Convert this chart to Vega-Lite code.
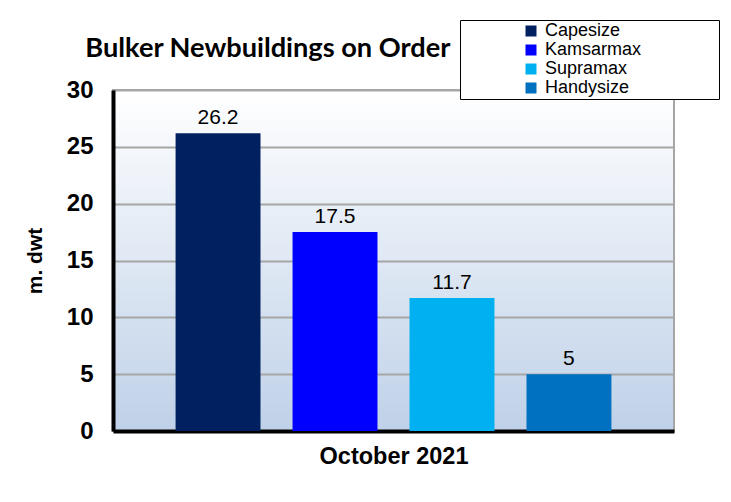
{
  "$schema": "https://vega.github.io/schema/vega-lite/v6.json",
  "autosize": {"type": "none"},
  "width": 561,
  "height": 341,
  "padding": {"left": 113, "top": 90, "right": 57, "bottom": 71},
  "background": "white",
  "title": {
    "text": "Bulker Newbuildings on Order",
    "anchor": "start",
    "dx": 61,
    "offset": 0,
    "dy": 44,
    "font": "Lato",
    "fontSize": 27.2,
    "fontWeight": "bold",
    "color": "black"
  },
  "data": {
    "values": [
      {"type": "Capesize", "dwt": 26.2, "label": "26.2"},
      {"type": "Kamsarmax", "dwt": 17.5, "label": "17.5"},
      {"type": "Supramax", "dwt": 11.7, "label": "11.7"},
      {"type": "Handysize", "dwt": 5, "label": "5"}
    ]
  },
  "encoding": {
    "x": {
      "field": "type",
      "type": "nominal",
      "sort": null,
      "scale": {"paddingInner": 0.274, "paddingOuter": 0.535},
      "axis": {
        "title": "October 2021",
        "labels": false,
        "ticks": false,
        "domainColor": "black",
        "domainWidth": 4,
        "titleFont": "Liberation Sans",
        "titleFontSize": 23.5,
        "titleFontWeight": "bold",
        "titleColor": "black",
        "titlePadding": 13
      }
    },
    "y": {
      "field": "dwt",
      "type": "quantitative",
      "scale": {"domain": [0, 30], "nice": false},
      "axis": {
        "title": "m. dwt",
        "values": [0, 5, 10, 15, 20, 25, 30],
        "ticks": false,
        "domainColor": "black",
        "domainWidth": 4,
        "grid": true,
        "gridColor": "#a6a6a6",
        "gridWidth": 2,
        "labelFont": "Liberation Sans",
        "labelFontSize": 24,
        "labelFontWeight": "bold",
        "labelColor": "black",
        "labelPadding": 20,
        "titleFont": "Liberation Sans",
        "titleFontSize": 21,
        "titleFontWeight": "bold",
        "titleColor": "black",
        "titlePadding": 21
      }
    }
  },
  "layer": [
    {
      "mark": {"type": "bar"},
      "encoding": {
        "color": {
          "field": "type",
          "type": "nominal",
          "sort": null,
          "scale": {
            "domain": ["Capesize", "Kamsarmax", "Supramax", "Handysize"],
            "range": ["#002060", "#0000ff", "#00b0f0", "#0070c0"]
          },
          "legend": {
            "title": "\u00a0",
            "titleOrient": "right",
            "titlePadding": 76,
            "titleFontSize": 10,
            "orient": "none",
            "legendX": 347,
            "legendY": -70,
            "direction": "vertical",
            "symbolType": "square",
            "symbolSize": 121,
            "symbolStrokeWidth": 0,
            "symbolOffset": 60,
            "labelFont": "Liberation Sans",
            "labelFontSize": 18,
            "labelColor": "black",
            "labelOffset": 5,
            "rowPadding": 1,
            "strokeColor": "black",
            "fillColor": "white",
            "padding": 2
          }
        }
      }
    },
    {
      "mark": {"type": "text", "baseline": "bottom", "dy": -5, "font": "Liberation Sans", "fontSize": 21, "color": "black"},
      "encoding": {"text": {"field": "label"}}
    }
  ],
  "config": {
    "view": {
      "stroke": "#a6a6a6",
      "strokeWidth": 2,
      "fill": {
        "gradient": "linear",
        "x1": 0, "y1": 0, "x2": 0, "y2": 1,
        "stops": [
          {"offset": 0, "color": "#ffffff"},
          {"offset": 1, "color": "#bfd1e8"}
        ]
      }
    }
  }
}
